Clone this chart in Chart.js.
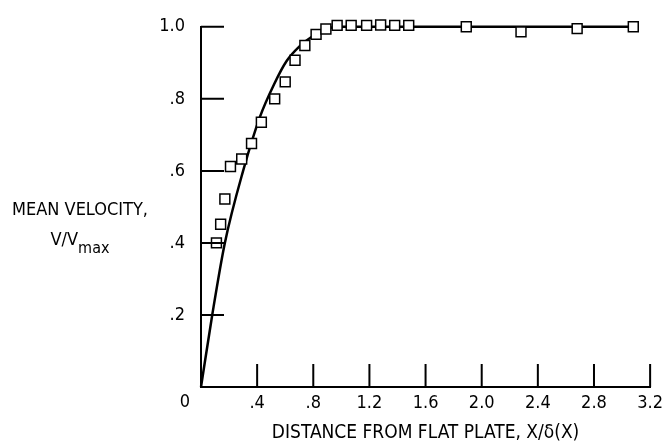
<!DOCTYPE html>
<html lang="en">
<head>
    <meta charset="UTF-8">
    <title>Mean velocity vs distance from flat plate</title>
    <script src="https://cdn.jsdelivr.net/npm/chart.js"></script>
    <style>
        html, body { margin: 0; padding: 0; background: #fff; }
        #wrap { width: 669px; height: 444px; }
    </style>
</head>
<body>
    <div id="wrap"><canvas id="chart"></canvas></div>

    <script>
        // measured points (squares)
        const xMeasured = [0.11, 0.14, 0.17, 0.21, 0.29, 0.36, 0.43, 0.525, 0.60, 0.67, 0.74, 0.82, 0.89,
                           0.97, 1.07, 1.18, 1.28, 1.38, 1.48, 1.89, 2.28, 2.68, 3.08];
        const yMeasured = [0.40, 0.452, 0.522, 0.612, 0.633, 0.676, 0.735, 0.80, 0.847, 0.907, 0.948, 0.979, 0.994,
                           1.004, 1.004, 1.004, 1.005, 1.004, 1.004, 1.0, 0.986, 0.995, 1.0];

        // faired curve
        const xCurve = [0, 0.08, 0.17, 0.30, 0.42, 0.52, 0.61, 0.70, 0.80, 0.90, 1.0, 3.12];
        const yCurve = [0, 0.2, 0.4, 0.6, 0.75, 0.84, 0.905, 0.945, 0.975, 0.995, 1.0, 1.0];

        const xTicks = [0.4, 0.8, 1.2, 1.6, 2.0, 2.4, 2.8, 3.2];
        const yTicks = [0.2, 0.4, 0.6, 0.8, 1.0];

        const FONT = "'DejaVu Sans Condensed', 'Liberation Sans Narrow', 'DejaVu Sans', sans-serif";

        function tickText(v) {
            if (Math.abs(v) < 1e-9) return '';
            return v < 1 ? '.' + Math.round(v * 10) : v.toFixed(1);
        }

        const zip = (xs, ys) => xs.map((x, i) => ({ x: x, y: ys[i] }));

        // inward tick marks, horizontal y title, corner zero
        const decorations = {
            id: 'decorations',
            afterDatasetsDraw(chart) {
                const ctx = chart.ctx;
                const xs = chart.scales.x, ys = chart.scales.y;
                const left = xs.getPixelForValue(0), bottom = ys.getPixelForValue(0);
                ctx.save();
                ctx.strokeStyle = '#000';
                ctx.lineWidth = 2;
                ctx.beginPath();
                yTicks.forEach(v => {
                    const py = ys.getPixelForValue(v);
                    ctx.moveTo(left, py);
                    ctx.lineTo(left + 23, py);
                });
                xTicks.forEach(v => {
                    const px = xs.getPixelForValue(v);
                    ctx.moveTo(px, bottom);
                    ctx.lineTo(px, bottom - 23);
                });
                ctx.stroke();

                ctx.fillStyle = '#000';
                ctx.font = '18px ' + FONT;
                ctx.textBaseline = 'middle';
                ctx.textAlign = 'center';
                ctx.fillText('0', left - 16, bottom + 15);

                // y title
                ctx.fillText('MEAN VELOCITY,', 80, 210);
                ctx.textAlign = 'left';
                const main = 'V/V';
                const wMain = ctx.measureText(main).width;
                ctx.font = '16px ' + FONT;
                const wSub = ctx.measureText('max').width;
                const start = 80 - (wMain + wSub) / 2;
                ctx.font = '18px ' + FONT;
                ctx.fillText(main, start, 240);
                ctx.font = '16px ' + FONT;
                ctx.fillText('max', start + wMain, 249);
                ctx.restore();
            }
        };

        new Chart(document.getElementById('chart'), {
            type: 'scatter',
            data: {
                datasets: [
                    {
                        data: zip(xMeasured, yMeasured),
                        pointStyle: 'rect',
                        pointRadius: 7,
                        borderColor: '#000',
                        borderWidth: 1.5,
                        backgroundColor: '#fff',
                        order: 1
                    },
                    {
                        type: 'line',
                        data: zip(xCurve, yCurve),
                        borderColor: '#000',
                        borderWidth: 2.5,
                        pointRadius: 0,
                        cubicInterpolationMode: 'monotone',
                        fill: false,
                        order: 2
                    }
                ]
            },
            options: {
                responsive: true,
                maintainAspectRatio: false,
                animation: false,
                clip: false,
                layout: { padding: { top: 19, right: 17, left: 0, bottom: 0 } },
                plugins: { legend: { display: false }, tooltip: { enabled: false } },
                scales: {
                    x: {
                        type: 'linear',
                        min: 0,
                        max: 3.2,
                        afterBuildTicks: s => { s.ticks = [0].concat(xTicks).map(v => ({ value: v })); },
                        grid: { display: false, drawTicks: false },
                        border: { display: true, color: '#000', width: 2 },
                        ticks: {
                            callback: tickText,
                            color: '#000',
                            padding: 6,
                            maxRotation: 0,
                            autoSkip: false,
                            font: { family: FONT, size: 18 }
                        },
                        title: {
                            display: true,
                            text: 'DISTANCE FROM FLAT PLATE, X/δ(X)',
                            color: '#000',
                            font: { family: FONT, size: 19 },
                            padding: { top: 0, bottom: 0 }
                        },
                        afterFit: s => { s.height = 57; }
                    },
                    y: {
                        type: 'linear',
                        min: 0,
                        max: 1,
                        afterBuildTicks: s => { s.ticks = [0].concat(yTicks).map(v => ({ value: v })); },
                        grid: { display: false, drawTicks: false },
                        border: { display: true, color: '#000', width: 2 },
                        ticks: {
                            callback: tickText,
                            color: '#000',
                            padding: 16,
                            font: { family: FONT, size: 18 }
                        },
                        afterFit: s => { s.width = 201; }
                    }
                }
            },
            plugins: [decorations]
        });
    </script>
</body>
</html>
